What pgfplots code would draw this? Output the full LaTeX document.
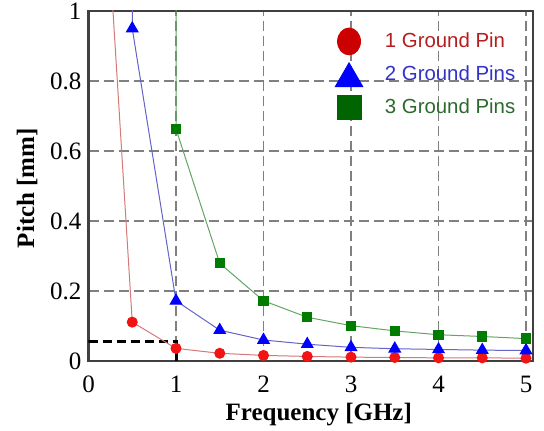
\documentclass[border=0pt]{standalone}
\usepackage{fontspec}
\setmainfont{Liberation Serif}
\newfontfamily\legfont{Liberation Sans}
\usepackage{pgfplots}
\pgfplotsset{compat=1.18}
\definecolor{redline}{RGB}{214,120,120}
\definecolor{redmark}{RGB}{240,20,20}
\definecolor{blueline}{RGB}{100,100,200}
\definecolor{bluemark}{RGB}{0,0,255}
\definecolor{greenline}{RGB}{100,165,100}
\definecolor{greenmark}{RGB}{0,125,0}
\definecolor{legred}{RGB}{204,0,0}
\definecolor{leggreen}{RGB}{0,100,0}
\definecolor{txtred}{RGB}{180,30,30}
\definecolor{txtblue}{RGB}{50,50,200}
\definecolor{txtgreen}{RGB}{45,105,45}
\definecolor{framegray}{RGB}{64,64,64}
\definecolor{gridgray}{RGB}{128,128,128}
\begin{document}
\begin{tikzpicture}
\begin{axis}[
  name=ax,
  scale only axis,
  width=222.25pt, height=175pt,
  xmin=0, xmax=5.08, ymin=0, ymax=1,
  xtick={0,1,2,3,4,5},
  ytick={0,0.2,0.4,0.6,0.8,1},
  yticklabels={0,0.2,0.4,0.6,0.8,1},
  major tick length=0pt,
  grid=major,
  major grid style={gridgray, line width=0.6pt, dash pattern=on 5pt off 2.5pt},
  axis line style={framegray, line width=1.1pt},
  /pgf/number format/assume math mode=true,
  tick label style={font=\fontsize{12.5}{14}\selectfont},
  xticklabel style={yshift=-4pt},
  xlabel={Frequency [GHz]},
  ylabel={Pitch [mm]},
  label style={font=\fontsize{12.5}{15}\selectfont\bfseries},
  xlabel style={at={(axis description cs:0.518,0)}, anchor=north, yshift=-21pt, inner sep=0pt},
  ylabel style={at={(axis description cs:0,0.494)}, anchor=center, yshift=30.75pt, inner sep=0pt},
  legend style={draw=none, fill=none, at={(axis cs:2.746,0.964)}, anchor=north west,
    font=\legfont\fontsize{10.2}{12}\selectfont, row sep=3.5pt, column sep=9pt,
    cells={anchor=west}},
  legend image code/.code={\draw[#1] plot coordinates {(0pt,0pt)};},
]
\addplot[black, line width=1.5pt, dash pattern=on 4.5pt off 2.5pt, forget plot]
  coordinates {(0,0.055) (1,0.055) (1,0)};
\addplot[redline, line width=0.5pt, mark=*, mark size=2.5pt,
  mark options={solid, fill=redmark, draw=redmark}, forget plot]
  coordinates {(0.25,1.12) (0.5,0.111) (1,0.036) (1.5,0.022) (2,0.016) (2.5,0.013)
    (3,0.011) (3.5,0.010) (4,0.009) (4.5,0.009) (5,0.008)};
\addplot[blueline, line width=0.5pt, mark=triangle*, mark size=3.3pt,
  mark options={solid, fill=bluemark, draw=bluemark}, forget plot]
  coordinates {(0.5,1.5) (0.5,0.95) (1,0.172) (1.5,0.088) (2,0.060) (2.5,0.048)
    (3,0.039) (3.5,0.035) (4,0.033) (4.5,0.031) (5,0.030)};
\addplot[greenline, line width=0.5pt, mark=square*, mark size=2.3pt,
  mark options={solid, fill=greenmark, draw=greenmark}, forget plot]
  coordinates {(1,1.5) (1,0.663) (1.5,0.279) (2,0.172) (2.5,0.125) (3,0.101)
    (3.5,0.086) (4,0.075) (4.5,0.070) (5,0.064)};
\addlegendimage{only marks, mark=*, mark size=5.75pt, mark options={yscale=1.17, fill=legred, draw=legred}}
\addlegendentry{\textcolor{txtred}{1 Ground Pin}}
\addlegendimage{only marks, mark=triangle*, mark size=8pt, mark options={yshift=-2pt, fill=bluemark, draw=bluemark}}
\addlegendentry{\textcolor{txtblue}{2 Ground Pins}}
\addlegendimage{only marks, mark=square*, mark size=6pt, mark options={fill=leggreen, draw=leggreen}}
\addlegendentry{\textcolor{txtgreen}{3 Ground Pins}}
\end{axis}
\pgfresetboundingbox
\path (ax.south west) ++(-44.25pt,-35pt) coordinate (bbA);
\path (ax.south west) ++(227.75pt,180.5pt) coordinate (bbB);
\path[use as bounding box] (bbA) rectangle (bbB);
\end{tikzpicture}
\end{document}
